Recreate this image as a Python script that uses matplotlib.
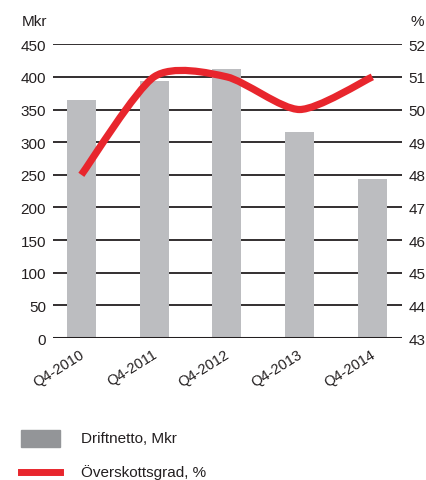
import numpy as np
import matplotlib.pyplot as plt
from matplotlib.path import Path
from matplotlib.patches import PathPatch, Rectangle
from matplotlib.lines import Line2D

plt.rcParams['font.family'] = ['Liberation Sans', 'DejaVu Sans']

quarters = ['Q4-2010', 'Q4-2011', 'Q4-2012', 'Q4-2013', 'Q4-2014']
driftnetto = [365, 393, 412, 316, 244]
overskott = [48.0, 51.0, 51.0, 50.0, 51.0]

bar_col = '#bcbdc0'
red = '#e8262d'
txt = '#231f20'

fig = plt.figure(figsize=(4.27, 4.81), dpi=100)
ax = fig.add_axes([0.124, 0.295, 0.817, 0.611])
x = np.arange(len(quarters))

ax.set_axisbelow(True)
ax.bar(x, driftnetto, width=0.4, color=bar_col, zorder=2)
ax.set_xlim(-0.39, 4.405)
ax.set_ylim(0, 450)
ax.set_yticks(range(0, 451, 50))
for v in range(50, 451, 50):
    ax.axhline(v, color=txt, lw=1.3, zorder=1)
ax.axhline(0, color=txt, lw=2.2, zorder=3)
for s in ax.spines.values():
    s.set_visible(False)
ax.tick_params(axis='y', length=0, pad=5, labelsize=11, labelcolor=txt)
ax.tick_params(axis='x', length=0, pad=6, labelsize=10.5, labelcolor=txt)
ax.set_xticks(x - 0.03)
ax.set_xticklabels(quarters, rotation=32, ha='right', rotation_mode='anchor')

ax2 = ax.twinx()
ax2.set_ylim(43, 52)
ax2.set_yticks(range(43, 53))
for s in ax2.spines.values():
    s.set_visible(False)
ax2.tick_params(axis='y', length=0, pad=5, labelsize=11, labelcolor=txt)

# smooth line through the points (Catmull-Rom as cubic Bezier)
pts = np.column_stack([x, overskott]).astype(float)
k = 0.75 / 6
verts = [tuple(pts[0])]
codes = [Path.MOVETO]
for i in range(len(pts) - 1):
    p0 = pts[max(i - 1, 0)]
    p1 = pts[i]
    p2 = pts[i + 1]
    p3 = pts[min(i + 2, len(pts) - 1)]
    c1 = p1 + (p2 - p0) * k
    c2 = p2 - (p3 - p1) * k
    verts += [tuple(c1), tuple(c2), tuple(p2)]
    codes += [Path.CURVE4] * 3
ax2.add_patch(PathPatch(Path(verts, codes), fill=False, edgecolor=red, lw=5.2,
                        capstyle='butt', zorder=4))

fig.text(0.052, 0.955, 'Mkr', fontsize=11, color=txt, va='center')
fig.text(0.962, 0.955, '%', fontsize=11, color=txt, va='center')

# legend
fig.patches.append(Rectangle((21 / 427, 1 - 448 / 481), 39 / 427, 17 / 481,
                             transform=fig.transFigure, color='#939598'))
fig.text(81 / 427, 1 - 439 / 481, 'Driftnetto, Mkr', fontsize=11, color=txt, va='center')
fig.lines.append(Line2D([21 / 427, 60 / 427], [1 - 473 / 481] * 2,
                        transform=fig.transFigure, color=red, lw=5))
fig.text(81 / 427, 1 - 473 / 481, 'Överskottsgrad, %', fontsize=11, color=txt, va='center')

fig.savefig('out.png', dpi=100)
